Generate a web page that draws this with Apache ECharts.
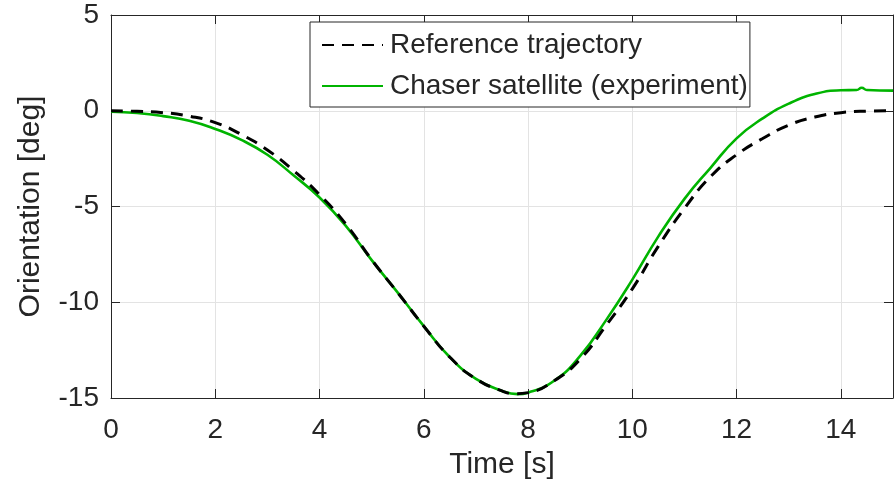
<!DOCTYPE html>
<html>
<head>
<meta charset="utf-8">
<script src="https://cdn.jsdelivr.net/npm/echarts@6/dist/echarts.min.js"></script>
<style>
html,body{margin:0;padding:0;background:#fff;}
#chart{width:896px;height:485px;}
</style>
</head>
<body>
<div id="chart"></div>
<script>
// ---- data ----
const xTicks = [0, 2, 4, 6, 8, 10, 12, 14];
const yTicks = [-15, -10, -5, 0, 5];
const seriesNames = ['Reference trajectory', 'Chaser satellite (experiment)'];

const refTime  = [0, 0.5, 1, 1.5, 2, 2.5, 3, 3.5, 4, 4.5, 5, 5.5, 6, 6.5, 7, 7.5, 7.75, 8, 8.5, 9, 9.5, 10, 10.5, 11, 11.5, 12, 12.5, 13, 13.5, 14, 14.5, 15];
const refValue = [0, -0.03, -0.1, -0.28, -0.62, -1.24, -2.05, -3.12, -4.38, -5.9, -7.78, -9.5, -11.25, -12.87, -14.0, -14.63, -14.78, -14.72, -14.1, -12.97, -11.2, -9.3, -7.07, -5.1, -3.44, -2.3, -1.45, -0.75, -0.33, -0.1, -0.02, 0];

const chaserTime  = [0, 0.5, 1, 1.5, 2, 2.5, 3, 3.5, 4, 4.5, 5, 5.5, 6, 6.5, 7, 7.5, 7.8, 8, 8.5, 9, 9.5, 10, 10.5, 11, 11.5, 12, 12.5, 13, 13.5, 14, 14.3, 14.4, 14.5, 15];
const chaserValue = [-0.05, -0.12, -0.28, -0.52, -0.95, -1.52, -2.3, -3.37, -4.53, -6.0, -7.8, -9.5, -11.25, -12.87, -14.0, -14.63, -14.8, -14.72, -14.1, -12.8, -10.92, -8.82, -6.56, -4.6, -2.98, -1.44, -0.4, 0.37, 0.87, 1.07, 1.08, 1.2, 1.08, 1.05];

// ---- chart ----
const FONT = '"Liberation Sans", Arial, Helvetica, sans-serif';
const TXT = '#262626';
const GRIDC = '#e3e3e3';

const chart = echarts.init(document.getElementById('chart'), null, {renderer: 'canvas'});

const xMin = xTicks[0], xMax = 15, xStep = xTicks[1] - xTicks[0];
const yMin = yTicks[0], yMax = yTicks[yTicks.length - 1], yStep = yTicks[1] - yTicks[0];

const option = {
  animation: false,
  backgroundColor: '#fff',
  grid: {left: 111, top: 15, right: 0, bottom: 86, containLabel: false},
  legend: {
    data: seriesNames,
    orient: 'vertical',
    left: 310, top: 22,
    padding: [9, 2, 7, 11],
    itemGap: 13,
    itemWidth: 61,
    itemHeight: 20,
    backgroundColor: '#fff',
    borderColor: TXT,
    borderWidth: 1,
    itemStyle: {color: 'rgba(0,0,0,0)', borderColor: 'rgba(0,0,0,0)', borderWidth: 0},
    textStyle: {fontFamily: FONT, fontSize: 28, color: TXT, padding: [0, 0, 0, 2]}
  },
  xAxis: [{
    type: 'value', min: xMin, max: xMax, interval: xStep,
    name: 'Time [s]', nameLocation: 'middle', nameGap: 52,
    nameTextStyle: {fontFamily: FONT, fontSize: 30, color: TXT},
    axisLine: {show: true, onZero: false, lineStyle: {color: TXT, width: 1}},
    axisTick: {show: true, inside: true, length: 9, lineStyle: {color: TXT}},
    axisLabel: {fontFamily: FONT, fontSize: 28, color: TXT, margin: 18,
      formatter: v => (xTicks.indexOf(v) >= 0 ? String(v) : '')},
    splitLine: {show: true, lineStyle: {color: GRIDC, width: 1}}
  }, {
    type: 'value', position: 'top', min: xMin, max: xMax, interval: xStep,
    axisLine: {show: true, onZero: false, lineStyle: {color: TXT, width: 1}},
    axisTick: {show: true, inside: true, length: 9, lineStyle: {color: TXT}},
    axisLabel: {show: false},
    splitLine: {show: false}
  }],
  yAxis: [{
    type: 'value', min: yMin, max: yMax, interval: yStep,
    name: 'Orientation [deg]', nameLocation: 'middle', nameGap: 65,
    nameTextStyle: {fontFamily: FONT, fontSize: 30, color: TXT},
    axisLine: {show: true, onZero: false, lineStyle: {color: TXT, width: 1}},
    axisTick: {show: true, inside: true, length: 9, lineStyle: {color: TXT}},
    axisLabel: {fontFamily: FONT, fontSize: 28, color: TXT, margin: 12, padding: [10, 0, 0, 0]},
    splitLine: {show: true, lineStyle: {color: GRIDC, width: 1}}
  }, {
    type: 'value', position: 'right', min: yMin, max: yMax, interval: yStep,
    axisLine: {show: true, onZero: false, lineStyle: {color: TXT, width: 1}},
    axisTick: {show: true, inside: true, length: 9, lineStyle: {color: TXT}},
    axisLabel: {show: false},
    splitLine: {show: false}
  }],
  series: [{
    name: seriesNames[1],
    type: 'line',
    data: chaserTime.map((t, i) => [t, chaserValue[i]]),
    showSymbol: false, symbol: 'none',
    smooth: 0.5,
    lineStyle: {color: '#00b400', width: 2.6},
    itemStyle: {color: '#00b400'},
    z: 2
  }, {
    name: seriesNames[0],
    type: 'line',
    data: refTime.map((t, i) => [t, refValue[i]]),
    showSymbol: false, symbol: 'none',
    smooth: 0.5,
    lineStyle: {color: '#000', width: 3, type: [12, 8]},
    itemStyle: {color: '#000'},
    z: 3
  }]
};
chart.setOption(option);
</script>
</body>
</html>
